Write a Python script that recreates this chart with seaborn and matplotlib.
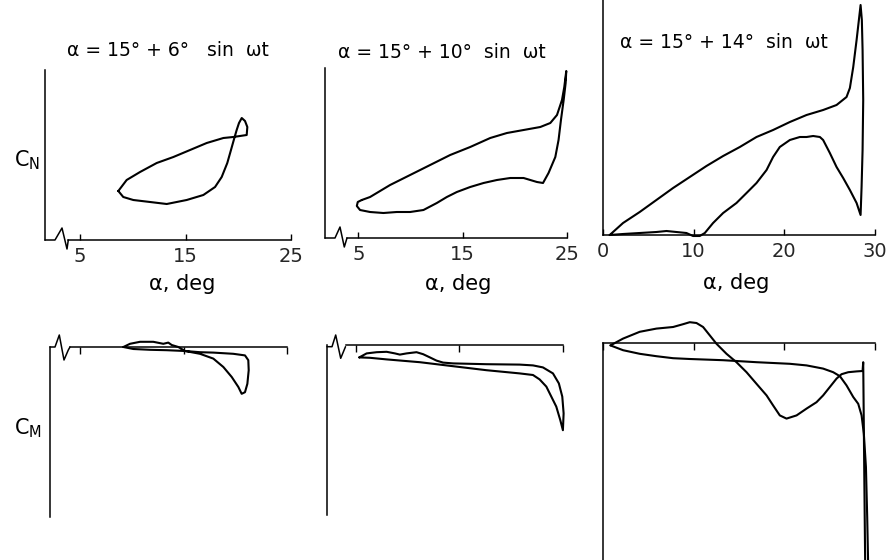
import matplotlib
matplotlib.use("Agg")
import matplotlib.pyplot as plt
import seaborn as sns
from matplotlib.lines import Line2D

# ---------------- data ----------------
# Panel 1: C_N, alpha = 15 + 6 sin wt (closed loop)
cn6_alpha = [8.63, 9.42, 10.69, 12.27, 13.85, 15.43, 17.01, 18.59, 19.53, 20.80,
             20.86, 20.64, 20.33, 20.07, 19.85, 19.63, 19.31, 18.96, 18.43, 17.80,
             16.69, 15.11, 13.22, 11.64, 10.05, 9.10, 8.63]
cn6_cn = [0.49, 0.60, 0.68, 0.77, 0.83, 0.90, 0.97, 1.02, 1.03, 1.05,
          1.13, 1.19, 1.22, 1.17, 1.10, 1.02, 0.90, 0.77, 0.63, 0.53,
          0.45, 0.40, 0.36, 0.38, 0.40, 0.43, 0.49]

# Panel 2: C_N, alpha = 15 + 10 sin wt
cn10_alpha = [5.33, 6.12, 8.04, 9.96, 11.88, 13.80, 15.72, 17.64, 19.24, 20.84,
              22.44, 23.40, 24.04, 24.52, 24.74, 24.93, 24.87, 24.68, 24.42, 24.19,
              23.88, 23.23, 22.70, 22.12, 20.84, 19.56, 18.28, 17.00, 15.72, 14.44,
              13.48, 12.52, 11.24, 9.96, 8.68, 7.40, 6.12, 5.16, 4.85, 4.94, 5.33]
cn10_cn = [0.38, 0.41, 0.53, 0.63, 0.73, 0.83, 0.91, 1.00, 1.05, 1.08,
           1.11, 1.15, 1.23, 1.38, 1.51, 1.67, 1.55, 1.38, 1.18, 0.98,
           0.81, 0.65, 0.55, 0.56, 0.60, 0.60, 0.58, 0.55, 0.51, 0.46,
           0.41, 0.35, 0.28, 0.26, 0.26, 0.25, 0.26, 0.28, 0.32, 0.36, 0.38]

# Panel 3: C_N, alpha = 15 + 14 sin wt
cn14_alpha = [0.74, 2.21, 4.05, 5.89, 7.73, 9.57, 11.41, 13.25, 15.09, 16.93,
              18.76, 20.61, 22.45, 24.28, 25.76, 26.86, 27.23, 27.60, 27.97, 28.26,
              28.41, 28.55, 28.63, 28.70, 28.63, 28.52, 28.41, 27.97, 27.23, 26.49,
              25.76, 25.02, 24.28, 23.92, 23.18, 22.45, 21.71, 20.61, 19.50, 18.76,
              18.04, 16.93, 15.83, 14.72, 13.25, 12.14, 11.23, 10.67, 9.93, 9.20,
              8.10, 7.00, 5.89, 4.05, 2.21, 0.74]
cn14_cn = [0.00, 0.12, 0.23, 0.35, 0.47, 0.58, 0.69, 0.79, 0.88, 0.98,
           1.05, 1.13, 1.20, 1.25, 1.30, 1.38, 1.47, 1.68, 1.95, 2.18,
           2.30, 2.15, 1.85, 1.35, 0.85, 0.48, 0.20, 0.32, 0.45, 0.57,
           0.68, 0.82, 0.95, 0.98, 0.99, 0.98, 0.98, 0.95, 0.88, 0.78,
           0.65, 0.52, 0.42, 0.32, 0.22, 0.12, 0.02, -0.01, -0.01, 0.02,
           0.03, 0.04, 0.03, 0.02, 0.01, 0.00]

# Panel 4: C_M, alpha = 15 + 6 sin wt
cm6_alpha = [9.19, 9.83, 10.80, 12.08, 13.05, 13.53, 13.86, 14.50, 15.14, 16.59,
             17.88, 18.85, 19.66, 20.30, 20.62, 20.94, 21.17, 21.30, 21.26, 20.94,
             19.81, 17.88, 16.59, 15.14, 13.37, 11.76, 10.15, 9.19]
cm6_cm = [0.000, 0.008, 0.013, 0.013, 0.008, 0.011, 0.005, 0.000, -0.010, -0.017,
          -0.029, -0.050, -0.075, -0.100, -0.117, -0.113, -0.092, -0.058, -0.033, -0.021,
          -0.017, -0.014, -0.013, -0.010, -0.008, -0.007, -0.005, 0.000]

# Panel 5: C_M, alpha = 15 + 10 sin wt
cm10_alpha = [5.32, 6.03, 7.00, 7.96, 8.76, 9.24, 9.89, 10.85, 11.49, 12.14,
              12.78, 13.42, 14.38, 17.60, 20.81, 22.10, 23.06, 24.03, 24.60, 24.93,
              25.06, 24.99, 24.74, 24.35, 23.87, 23.39, 22.74, 22.10, 20.81, 17.60,
              14.38, 11.17, 7.96, 6.35, 5.32]
cm10_cm = [-0.031, -0.021, -0.018, -0.017, -0.021, -0.024, -0.021, -0.018, -0.023, -0.031,
           -0.039, -0.044, -0.046, -0.048, -0.049, -0.051, -0.056, -0.071, -0.096, -0.129,
           -0.171, -0.213, -0.188, -0.154, -0.129, -0.104, -0.086, -0.075, -0.071, -0.063,
           -0.053, -0.043, -0.036, -0.032, -0.031]

# Panel 6: C_M, alpha = 15 + 14 sin wt (upstroke and downstroke)
cm14_up_alpha = [0.82, 2.21, 4.05, 5.89, 7.73, 9.57, 13.25, 16.93, 20.61, 22.45,
                 24.28, 25.39, 26.13, 26.86, 27.60, 28.15, 28.52, 28.77, 29.00, 29.14,
                 29.25, 29.30]
cm14_up_cm = [-0.006, -0.018, -0.027, -0.033, -0.038, -0.040, -0.043, -0.048, -0.052, -0.056,
              -0.064, -0.073, -0.083, -0.106, -0.135, -0.152, -0.181, -0.227, -0.310, -0.435,
              -0.560, -0.650]
cm14_dn_alpha = [29.00, 28.92, 28.81, 28.74, 28.70, 28.63, 27.97, 27.05, 26.31, 25.76,
                 25.02, 24.28, 23.55, 22.45, 21.35, 20.24, 19.50, 18.76, 18.04, 16.93,
                 15.83, 14.72, 13.62, 12.52, 11.78, 11.04, 10.31, 9.57, 8.83, 7.73,
                 5.89, 4.05, 2.21, 0.82]
cm14_dn_cm = [-0.650, -0.560, -0.310, -0.143, -0.048, -0.070, -0.071, -0.073, -0.078, -0.089,
              -0.110, -0.131, -0.148, -0.164, -0.181, -0.189, -0.181, -0.156, -0.131, -0.102,
              -0.073, -0.048, -0.027, -0.002, 0.019, 0.040, 0.050, 0.052, 0.047, 0.040,
              0.036, 0.028, 0.011, -0.006]

titles = ["α = 15° + 6°   sin  ωt", "α = 15° + 10°  sin  ωt", "α = 15° + 14°  sin  ωt"]
ticks_small = [5, 15, 25]
ticks_large = [0, 10, 20, 30]
xlabel = "α, deg"

# ---------------- figure ----------------
sns.set_theme(style="white")
plt.rcParams["font.family"] = ["DejaVu Sans"]

W, H = 889, 560
fig = plt.figure(figsize=(W / 100, H / 100), dpi=100)
fig.patch.set_facecolor("white")


def rect(l, r, t, b):
    return [l / W, 1 - b / H, (r - l) / W, (b - t) / H]


def ftext(x, y, s, **kw):
    fig.text(x / W, 1 - y / H, s, ha="center", va="center", color="black", **kw)


def zigzag(pts):
    xs = [p[0] / W for p in pts]
    ys = [1 - p[1] / H for p in pts]
    fig.add_artist(Line2D(xs, ys, transform=fig.transFigure, color="black", lw=1.1))


LW = 1.5
SP = 1.1


def style_cn(ax, xlim, ylim, ticks, xstart=None):
    ax.set_xlim(*xlim)
    ax.set_ylim(*ylim)
    for s in ["top", "right"]:
        ax.spines[s].set_visible(False)
    for s in ["left", "bottom"]:
        ax.spines[s].set_color("black")
        ax.spines[s].set_linewidth(SP)
    if xstart is not None:
        ax.spines["bottom"].set_bounds(xstart, xlim[1])
    ax.set_xticks(ticks)
    ax.set_xticklabels([str(t) for t in ticks], fontsize=14)
    ax.set_yticks([])
    ax.tick_params(axis="x", direction="in", length=4, width=1.0, color="black",
                   bottom=True, pad=5)
    ax.set_facecolor("none")


def style_cm(ax, xlim, ylim, ticks, xstart=None):
    ax.set_xlim(*xlim)
    ax.set_ylim(*ylim)
    for s in ["bottom", "right"]:
        ax.spines[s].set_visible(False)
    for s in ["left", "top"]:
        ax.spines[s].set_color("black")
        ax.spines[s].set_linewidth(SP)
    if xstart is not None:
        ax.spines["top"].set_bounds(xstart, xlim[1])
    ax.xaxis.tick_top()
    ax.set_xticks(ticks)
    ax.set_xticklabels([])
    ax.set_yticks([])
    ax.tick_params(axis="x", direction="in", length=5, width=1.0, color="black",
                   top=True, labeltop=False, bottom=False)
    ax.set_facecolor("none")


def curve(ax, x, y):
    sns.lineplot(x=x, y=y, sort=False, estimator=None, color="black", lw=LW,
                 ax=ax, clip_on=False)


# --- C_N panels ---
ax1 = fig.add_axes(rect(45, 291, 70, 240))
style_cn(ax1, (1.68, 25), (0, 1.70), ticks_small, xstart=3.89)
curve(ax1, cn6_alpha, cn6_cn)

ax2 = fig.add_axes(rect(325, 567, 68, 238))
style_cn(ax2, (1.80, 25), (0, 1.70), ticks_small, xstart=3.92)
curve(ax2, cn10_alpha, cn10_cn)

ax3 = fig.add_axes(rect(603, 875, 0, 235))
style_cn(ax3, (0, 30), (0, 2.35), ticks_large)
curve(ax3, cn14_alpha, cn14_cn)

# --- C_M panels ---
ax4 = fig.add_axes(rect(50, 287, 347, 517))
style_cm(ax4, (2.10, 25), (-0.425, 0), ticks_small, xstart=4.03)
curve(ax4, cm6_alpha, cm6_cm)

ax5 = fig.add_axes(rect(327, 563, 345, 515))
style_cm(ax5, (2.20, 25), (-0.425, 0), ticks_small, xstart=4.04)
curve(ax5, cm10_alpha, cm10_cm)

ax6 = fig.add_axes(rect(603, 875, 343, 560))
style_cm(ax6, (0, 30), (-0.5425, 0), ticks_large)
curve(ax6, cm14_up_alpha, cm14_up_cm)
curve(ax6, cm14_dn_alpha, cm14_dn_cm)

for ax in (ax1, ax2, ax3, ax4, ax5, ax6):
    ax.set_xlabel("")
    ax.set_ylabel("")

# axis breaks
zigzag([(45, 240), (55, 240), (62, 228), (67, 249), (68.3, 240)])
zigzag([(325, 238), (335, 238), (340, 227), (344.3, 247), (347, 238)])
zigzag([(50, 347), (55, 347), (59.3, 335), (64, 360), (68.3, 350), (70, 347)])
zigzag([(327, 346.7), (332, 346.7), (335.7, 335), (340.7, 358.3), (345.5, 346.7)])

# titles
ftext(168, 50, titles[0], fontsize=13.5)
ftext(442, 52, titles[1], fontsize=13.5)
ftext(724, 43, titles[2], fontsize=13.5)

# x labels
ftext(182, 284, xlabel, fontsize=15)
ftext(458, 284, xlabel, fontsize=15)
ftext(736, 283, xlabel, fontsize=15)

# y labels
ftext(27, 160, r"$\mathregular{C_N}$", fontsize=15)
ftext(28, 428, r"$\mathregular{C_M}$", fontsize=15)

fig.savefig("out.png", dpi=100, facecolor="white")
